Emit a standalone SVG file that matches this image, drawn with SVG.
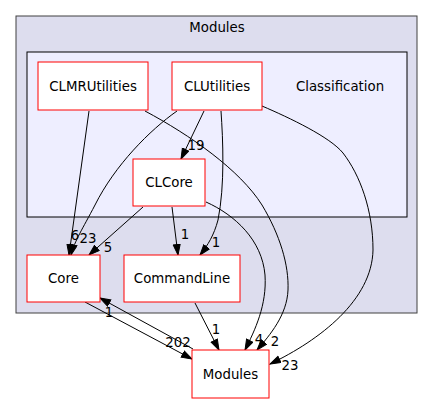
<svg xmlns="http://www.w3.org/2000/svg" width="433" height="404" viewBox="0 0 433 404">
<style>
text{font-family:"DejaVu Sans","Liberation Sans",sans-serif;font-size:13.33px;fill:#000}
.node rect{fill:#fff;stroke:#ff0000;stroke-width:1}
.edge{fill:none;stroke:#000;stroke-width:1;marker-end:url(#ah)}
.lbl{text-anchor:middle}
</style>
<defs>
<marker id="ah" markerUnits="userSpaceOnUse" markerWidth="12" markerHeight="9" refX="11" refY="4" orient="auto">
<path d="M0.5,0.5 L11,4 L0.5,7.5 z" fill="#000" stroke="#000" stroke-width="1"/>
</marker>
</defs>
<rect x="0" y="0" width="433" height="404" fill="#fff"/>
<g id="cluster_modules">
<rect x="16" y="16" width="401" height="297" fill="#ddddee" stroke="#404040" stroke-width="1"/>
<text x="217" y="32" class="lbl">Modules</text>
</g>
<g id="cluster_classification">
<rect x="27" y="52" width="380" height="165" fill="#eeeeff" stroke="#000" stroke-width="1"/>
<text x="340" y="90.5" class="lbl">Classification</text>
</g>
<g id="edges">
<path class="edge" d="M89,111 L69,255"/>
<text x="75" y="240" class="lbl">6</text>
<path class="edge" d="M145,111 C190,135 240,170 262,205 C280,235 289,265 288,290 C287,315 270,335 257,350"/>
<text x="275" y="346" class="lbl">2</text>
<path class="edge" d="M204,111 L181,159"/>
<text x="196" y="150" class="lbl">19</text>
<path class="edge" d="M177,111 C150,130 115,165 95,205 C82,230 75,240 71,255"/>
<text x="88" y="243" class="lbl">23</text>
<path class="edge" d="M221,111 C223,140 225,185 218,220 C214,235 208,245 200,255"/>
<text x="216" y="247" class="lbl">1</text>
<path class="edge" d="M262,106 C290,118 330,137 343,153 C360,175 373,210 373,250 C372,300 320,340 270,364"/>
<text x="290" y="370" class="lbl">23</text>
<path class="edge" d="M143,207 L89,255"/>
<text x="108" y="252" class="lbl">5</text>
<path class="edge" d="M172,207 L178,255"/>
<text x="185" y="239" class="lbl">1</text>
<path class="edge" d="M206,202 C235,215 262,240 265,275 C267,305 255,330 245,350"/>
<text x="259" y="344" class="lbl">4</text>
<path class="edge" d="M85,302 L192,359"/>
<text x="178" y="347" class="lbl">202</text>
<path class="edge" d="M193,349 L100,298"/>
<text x="109" y="317" class="lbl">1</text>
<path class="edge" d="M195,303 L219,350"/>
<text x="216" y="334" class="lbl">1</text>
</g>
<g id="node_clmrutilities" class="node">
<rect x="38" y="62" width="110" height="48"/>
<text x="93" y="90.5" class="lbl">CLMRUtilities</text>
</g>
<g id="node_clutilities" class="node">
<rect x="172" y="62" width="90" height="48"/>
<text x="217" y="90.5" class="lbl">CLUtilities</text>
</g>
<g id="node_clcore" class="node">
<rect x="133" y="159" width="72" height="47"/>
<text x="169" y="186.5" class="lbl">CLCore</text>
</g>
<g id="node_core" class="node">
<rect x="27" y="255" width="73" height="47"/>
<text x="63.5" y="282.5" class="lbl">Core</text>
</g>
<g id="node_commandline" class="node">
<rect x="124" y="255" width="116" height="47"/>
<text x="182" y="282.5" class="lbl">CommandLine</text>
</g>
<g id="node_modules" class="node">
<rect x="192" y="350" width="77" height="48"/>
<text x="230.5" y="378.5" class="lbl">Modules</text>
</g>
</svg>
